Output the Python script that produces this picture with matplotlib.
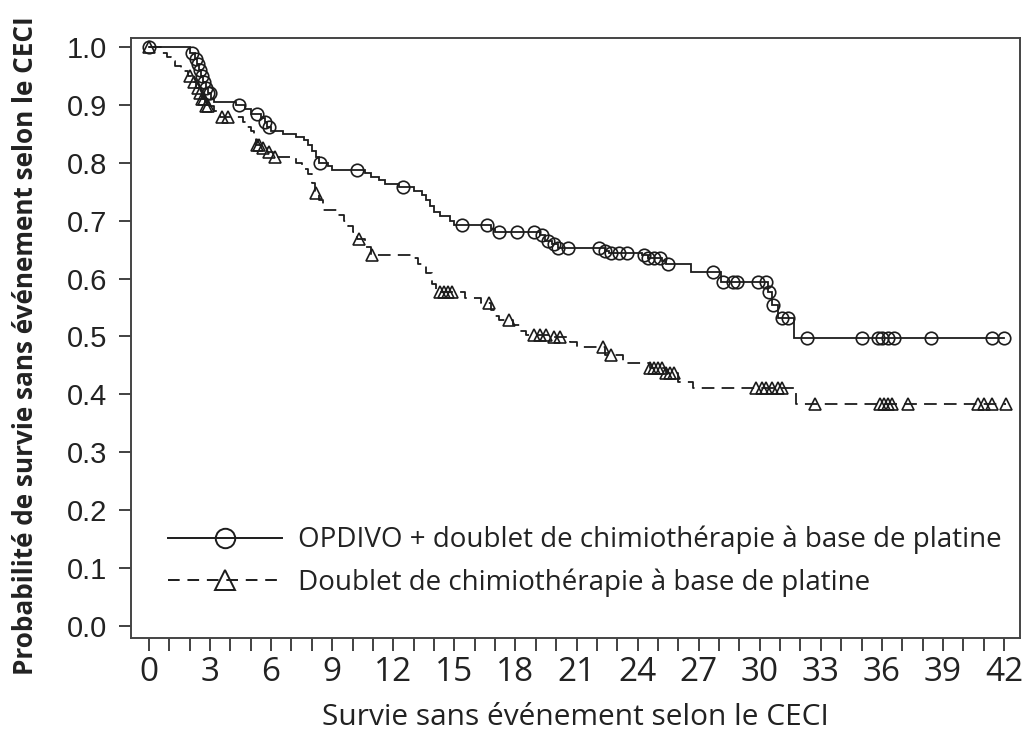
import numpy as np
import matplotlib
matplotlib.use("Agg")
import matplotlib.pyplot as plt
from matplotlib.lines import Line2D

# ---------------- data ----------------
# OPDIVO + doublet: step times (months) and survival after each step
opd_t = [0, 2.0, 2.25, 2.35, 2.45, 2.55, 2.65, 2.8, 2.9, 3.05, 3.2, 4.3, 4.7, 5.0, 5.5, 5.7, 5.8,
         6.0, 6.6, 7.2, 7.6, 7.8, 8.0, 8.2, 8.35, 8.8, 9.0, 10.6, 10.9, 11.3, 11.6, 12.3, 13.0,
         13.4, 13.6, 13.8, 14.0, 14.3, 14.8, 15.0, 16.8, 17.0, 19.2, 19.45, 19.8, 20.1, 22.4,
         22.6, 24.2, 24.5, 25.2, 25.4, 26.6, 28.1, 30.4, 30.6, 30.9, 31.7]
opd_s = [1.0, 0.99, 0.98, 0.97, 0.96, 0.95, 0.94, 0.93, 0.92, 0.91, 0.905, 0.90, 0.893, 0.885,
         0.877, 0.87, 0.862, 0.855, 0.85, 0.845, 0.84, 0.83, 0.82, 0.81, 0.80, 0.795, 0.788,
         0.782, 0.776, 0.77, 0.764, 0.758, 0.752, 0.745, 0.735, 0.725, 0.715, 0.708, 0.70,
         0.693, 0.686, 0.68, 0.675, 0.665, 0.66, 0.653, 0.648, 0.644, 0.64, 0.636, 0.63, 0.625,
         0.611, 0.594, 0.577, 0.555, 0.532, 0.497]
opd_cens = [0, 2.1, 2.3, 2.4, 2.5, 2.6, 2.7, 2.8, 2.9, 3.0, 4.4, 5.3, 5.7, 5.9, 8.4, 10.2, 12.5,
            15.4, 16.6, 17.2, 18.1, 18.9, 19.3, 19.6, 19.9, 20.1, 20.6, 22.1, 22.4, 22.7, 23.1,
            23.5, 24.3, 24.5, 24.8, 25.1, 25.5, 27.7, 28.2, 28.7, 28.9, 29.9, 30.3, 30.45,
            30.65, 31.1, 31.4, 32.3, 35.0, 35.8, 36.0, 36.3, 36.6, 38.4, 41.4, 42.0]
opd_end = 42.0

# Doublet de chimiotherapie
chem_t = [0, 0.6, 0.9, 1.1, 1.3, 1.6, 1.9, 2.1, 2.3, 2.45, 2.6, 2.75, 3.2, 3.5, 4.6, 4.8, 5.0,
          5.15, 5.25, 5.5, 5.8, 6.1, 7.2, 7.5, 7.8, 8.0, 8.15, 8.35, 8.55, 9.3, 9.6, 9.8, 10.0,
          10.2, 10.6, 10.9, 12.9, 13.2, 13.6, 13.9, 14.1, 15.5, 16.3, 16.8, 17.0, 17.2, 17.9,
          18.2, 18.5, 19.7, 20.7, 21.0, 22.4, 23.3, 24.6, 25.4, 26.0, 26.7, 31.8]
chem_s = [1.0, 0.99, 0.982, 0.975, 0.967, 0.958, 0.95, 0.94, 0.93, 0.92, 0.91, 0.898, 0.89,
          0.879, 0.87, 0.862, 0.855, 0.845, 0.83, 0.825, 0.818, 0.81, 0.80, 0.79, 0.78, 0.765,
          0.748, 0.735, 0.718, 0.71, 0.70, 0.69, 0.68, 0.668, 0.655, 0.641, 0.635, 0.625, 0.61,
          0.59, 0.577, 0.566, 0.558, 0.545, 0.535, 0.528, 0.52, 0.51, 0.503, 0.499, 0.49, 0.482,
          0.468, 0.454, 0.445, 0.437, 0.421, 0.411, 0.384]
chem_cens = [0, 2.0, 2.2, 2.4, 2.5, 2.6, 2.7, 2.8, 2.9, 3.6, 3.9, 5.3, 5.4, 5.6, 5.9, 6.2, 8.2,
             10.3, 10.95, 14.3, 14.5, 14.7, 14.9, 16.7, 17.7, 18.9, 19.2, 19.5, 19.9, 20.2,
             22.3, 22.7, 24.6, 24.8, 25.0, 25.2, 25.4, 25.6, 25.8, 29.8, 30.1, 30.3, 30.6, 30.9,
             31.1, 32.7, 35.9, 36.1, 36.3, 36.5, 37.3, 40.7, 41.0, 41.4, 42.1]
chem_end = 42.1

labels = ["OPDIVO + doublet de chimiothérapie à base de platine",
          "Doublet de chimiothérapie à base de platine"]
xticks = list(range(0, 43, 3))
yticks = [round(0.1 * i, 1) for i in range(11)]

# ---------------- figure ----------------
TXT = ["Open Sans", "DejaVu Sans"]
col = "#1c1c1c"

fig = plt.figure(figsize=(10.28, 7.40), dpi=100)
ax = fig.add_axes([131 / 1028, 1 - 638 / 740, (1020 - 131) / 1028, (638 - 38) / 740])


def surv_at(times, tt, ss):
    idx = np.searchsorted(np.asarray(tt), np.asarray(times), side="right") - 1
    return np.asarray(ss)[idx]


# OPDIVO curve
ot = list(opd_t) + [opd_end]
os_ = list(opd_s) + [opd_s[-1]]
ax.step(ot, os_, where="post", color=col, lw=1.3, solid_joinstyle="miter")
ax.plot(opd_cens, surv_at(opd_cens, opd_t, opd_s), ls="none", marker="o", ms=9,
        mfc="none", mec=col, mew=1.2)

# Chemo curve
ct = list(chem_t) + [chem_end]
cs = list(chem_s) + [chem_s[-1]]
ax.step(ct, cs, where="post", color=col, lw=1.3, ls=(0, (7, 4)))
ax.plot(chem_cens, surv_at(chem_cens, chem_t, chem_s), ls="none", marker="^", ms=9,
        mfc="none", mec=col, mew=1.2)

ax.set_xlim(-0.88, 42.78)
ax.set_ylim(-0.0207, 1.0155)
ax.set_xticks(xticks)
ax.set_xticks(range(0, 43), minor=True)
ax.set_yticks(yticks)
ax.set_yticklabels([f"{v:.1f}" for v in yticks], family=["Liberation Sans", "DejaVu Sans"],
                   fontsize=21, color="#222222")
ax.set_xticklabels([str(v) for v in xticks], family=TXT, fontsize=24, color="#222222")
ax.tick_params(axis="both", which="both", direction="out", width=1.3, color="#333333")
ax.tick_params(axis="x", which="both", length=9, pad=4)
ax.tick_params(axis="y", length=9, pad=8)
for sp in ax.spines.values():
    sp.set_linewidth(1.4)
    sp.set_color("#444444")

ax.set_xlabel("Survie sans événement selon le CECI", family=TXT, fontsize=21.5,
              color="#222222", labelpad=10)
fig.text(26 / 1028, 1 - 346 / 740, "Probabilité de survie sans événement selon le CECI",
         rotation=90, ha="center", va="center", family=TXT, fontweight="bold",
         fontsize=18.8, color="#222222")

h1 = Line2D([], [], color=col, lw=1.4, marker="o", ms=14, mfc="none", mec=col, mew=1.4)
h2 = Line2D([], [], color=col, lw=1.4, ls=(0, (6, 4)), marker="^", ms=14, mfc="none",
            mec=col, mew=1.4)
leg = ax.legend([h1, h2], labels, loc="lower left", bbox_to_anchor=(0.042, 0.068),
                frameon=False, prop={"family": TXT, "size": 20}, handlelength=4.1,
                handletextpad=0.55, labelspacing=0.52, borderpad=0, borderaxespad=0,
                numpoints=1)
for t in leg.get_texts():
    t.set_color("#222222")

fig.savefig("out.png", dpi=100)
